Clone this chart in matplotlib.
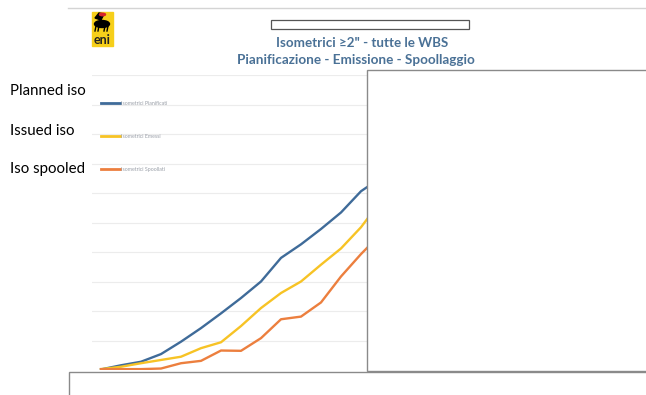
import matplotlib
matplotlib.use("Agg")
import matplotlib.pyplot as plt
from matplotlib.patches import Rectangle, Ellipse, Polygon

plt.rcParams['font.family'] = ['Lato', 'DejaVu Sans']

# Avanzamento cumulato isometrici (periodi settimanali)
periodi = list(range(15))
pianificati = [10, 80, 140, 270, 480, 710, 960, 1220, 1500, 1900, 2130, 2390, 2670, 3030, 3260]
emessi = [15, 55, 115, 170, 225, 370, 470, 745, 1050, 1305, 1500, 1785, 2060, 2420, 2870]
spoollati = [15, 15, 15, 25, 115, 155, 330, 325, 540, 860, 905, 1145, 1585, 1965, 2310]

serie_label = ['Isometrici Pianificati', 'Isometrici Emessi', 'Isometrici Spoollati']
colori = ['#3f6b99', '#f7c325', '#ec7f3e']
etichette_sx = ['Planned iso', 'Issued iso', 'Iso spooled']

W, H = 646, 395
fig = plt.figure(figsize=(W / 100, H / 100), dpi=100)


def box(x0, y0, x1, y1):
    # rettangolo in pixel (origine in alto a sinistra) -> frazioni figura
    return [x0 / W, 1 - y1 / H, (x1 - x0) / W, (y1 - y0) / H]


# grafico a linee
ax = fig.add_axes(box(92, 75, 367, 370))
for valori, lab, col in zip([pianificati, emessi, spoollati], serie_label, colori):
    ax.plot(periodi, valori, color=col, lw=1.7, label=lab, solid_joinstyle='round')
ax.set_xlim(-0.45, 13.3)
ax.set_ylim(0, 5000)
ax.set_yticks(range(500, 5001, 500))
ax.grid(axis='y', color='#ececec', lw=0.8)
ax.set_xticks([])
ax.tick_params(left=False, labelleft=False)
for s in ax.spines.values():
    s.set_visible(False)

leg = ax.legend(loc='upper left', bbox_to_anchor=(0.025, 0.92), fontsize=3.8,
                frameon=False, labelspacing=5.3, handlelength=3.6,
                handletextpad=0.1, borderaxespad=0)
for t in leg.get_texts():
    t.set_color('#9a9fa8')
for h in leg.legend_handles:
    h.set_linewidth(2)

# livello di sovrapposizione: intestazione, logo, riquadri bianchi
ov = fig.add_axes([0, 0, 1, 1], zorder=5)
ov.set_xlim(0, W)
ov.set_ylim(H, 0)
ov.axis('off')
ov.patch.set_alpha(0)

ov.plot([68, W], [7.5, 7.5], color='#d4d4d4', lw=1)

# logo eni
ov.add_patch(Rectangle((92, 12), 21, 34, color='#f6cf1a'))
ov.add_patch(Ellipse((102, 24), 15, 7, color='black'))
ov.add_patch(Polygon([[95, 18], [99, 13], [104, 14], [101, 20]], color='black'))
ov.add_patch(Ellipse((102.5, 14.5), 6, 2.5, color='#d8232a'))
for lx in [96, 99, 105, 108]:
    ov.plot([lx, lx - 1], [26, 31], color='black', lw=1)
ov.text(102.5, 40, 'eni', ha='center', va='center', fontsize=9,
        fontweight='bold', color='#222222')

# titolo
ov.text(362.5, 43, 'Isometrici ≥2" - tutte le WBS', ha='center', va='center',
        fontsize=9.6, fontweight='bold', color='#4a7196')
ov.text(356, 60, 'Pianificazione - Emissione - Spoollaggio', ha='center',
        va='center', fontsize=9.7, fontweight='bold', color='#4a7196')

# etichette in inglese a sinistra
for testo, y in zip(etichette_sx, [91, 131, 169]):
    ov.text(10, y, testo, ha='left', va='center', fontsize=10.8, color='black')

# riquadri bianchi
ov.add_patch(Rectangle((270.5, 19.5), 198.5, 9.5, facecolor='white',
                       edgecolor='#555555', lw=0.9))
ov.add_patch(Rectangle((367, 69.5), 300, 301.5, facecolor='white',
                       edgecolor='#8a8a8a', lw=1))
ov.add_patch(Rectangle((68.5, 371.5), 600, 40, facecolor='white',
                       edgecolor='#8a8a8a', lw=1))

fig.savefig('out.png', dpi=100)
